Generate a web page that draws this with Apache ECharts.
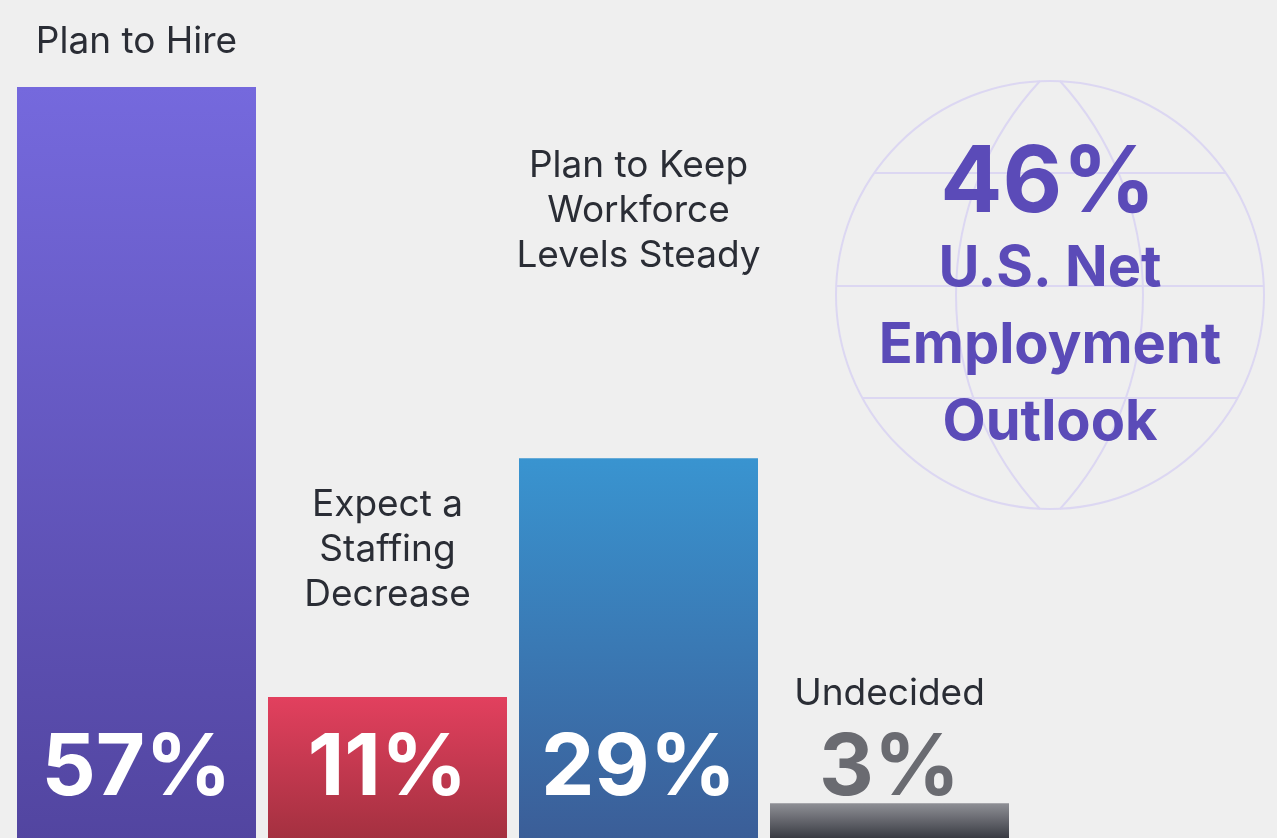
<!DOCTYPE html>
<html>
<head>
<meta charset="utf-8">
<style>
  html, body { margin: 0; padding: 0; background: #efefef; overflow: hidden; }
  #chart { width: 1277px; height: 843px; }
</style>
<script src="https://cdn.jsdelivr.net/npm/echarts@6/dist/echarts.min.js"></script>
</head>
<body>
<div id="chart"></div>
<script>
// ---- data ----
const categories = ['Plan to Hire', 'Expect a\nStaffing\nDecrease', 'Plan to Keep\nWorkforce\nLevels Steady', 'Undecided'];
const values = [57, 11, 29, 3];
const netOutlook = 46;
const headlineLines = ['U.S. Net', 'Employment', 'Outlook'];

// ---- styles ----
const gradients = [
  ['#7569dd', '#5245a0'],
  ['#e2405e', '#a2303f'],
  ['#3994d0', '#3b5d97'],
  ['#8f9096', '#2d2f37']
];
const valueLabelColors = ['#ffffff', '#ffffff', '#ffffff', '#6a6b71'];
const nameLabelGap = [23, 80, 180, 87];
const FONT = 'Inter, "Noto Sans", sans-serif';
const globeColor = '#dcd7f2';
const purple = '#5b4bb8';

const chart = echarts.init(document.getElementById('chart'), null, { renderer: 'canvas' });

const barData = values.map((v, i) => ({
  value: v,
  itemStyle: {
    color: new echarts.graphic.LinearGradient(0, 0, 0, 1, [
      { offset: 0, color: gradients[i][0] },
      { offset: 1, color: gradients[i][1] }
    ])
  },
  label: { color: valueLabelColors[i] }
}));

const nameData = values.map((v, i) => ({
  value: v,
  label: { distance: nameLabelGap[i] }
}));

// globe decoration
const cx = 1050, cy = 295, R = 214;
const deg = Math.PI / 180;
const lineStyle = { fill: 'none', stroke: globeColor, lineWidth: 2 };
function chordLine(y) {
  const h = Math.sqrt(R * R - (y - cy) * (y - cy));
  return { type: 'line', shape: { x1: cx - h, y1: y, x2: cx + h, y2: y }, style: lineStyle, z: 1 };
}
const globe = [
  { type: 'circle', shape: { cx: cx, cy: cy, r: R }, style: lineStyle, z: 1 },
  chordLine(173), chordLine(286), chordLine(398),
  { type: 'arc', shape: { cx: 1270.6, cy: cy, r: 314.6, startAngle: 137.14 * deg, endAngle: 222.86 * deg, clockwise: true }, style: lineStyle, z: 1 },
  { type: 'arc', shape: { cx: 825.6, cy: cy, r: 317.4, startAngle: -42.4 * deg, endAngle: 42.4 * deg, clockwise: true }, style: lineStyle, z: 1 },
  { type: 'text', x: 1048, y: 184, z: 5, style: { text: netOutlook + '%', fill: purple, font: 'bold 92px ' + FONT, align: 'center', verticalAlign: 'middle' } }
].concat(headlineLines.map((t, i) => ({
  type: 'text', x: 1050, y: 269 + i * 77, z: 5,
  style: { text: t, fill: purple, font: 'bold 56px ' + FONT, align: 'center', verticalAlign: 'middle' }
})));

chart.setOption({
  backgroundColor: '#efefef',
  animation: false,
  grid: { left: 11, right: 262, top: 87, bottom: 0 },
  xAxis: {
    type: 'category',
    data: categories,
    show: false
  },
  yAxis: {
    type: 'value',
    min: 0,
    max: 57,
    show: false,
    splitLine: { show: false }
  },
  graphic: globe,
  series: [
    {
      type: 'bar',
      data: nameData,
      barWidth: 239,
      barGap: '-100%',
      silent: true,
      itemStyle: { color: 'rgba(0,0,0,0)' },
      label: {
        show: true,
        position: 'top',
        formatter: p => categories[p.dataIndex],
        color: '#2a2d35',
        fontFamily: FONT,
        fontSize: 37,
        lineHeight: 45,
        align: 'center'
      },
      z: 2
    },
    {
      type: 'bar',
      data: barData,
      barWidth: 239,
      barGap: '-100%',
      label: {
        show: true,
        position: 'insideBottom',
        distance: 31,
        formatter: '{c}%',
        fontFamily: FONT,
        fontSize: 85,
        fontWeight: 'bold',
        lineHeight: 85
      },
      z: 3
    }
  ]
});
</script>
</body>
</html>
